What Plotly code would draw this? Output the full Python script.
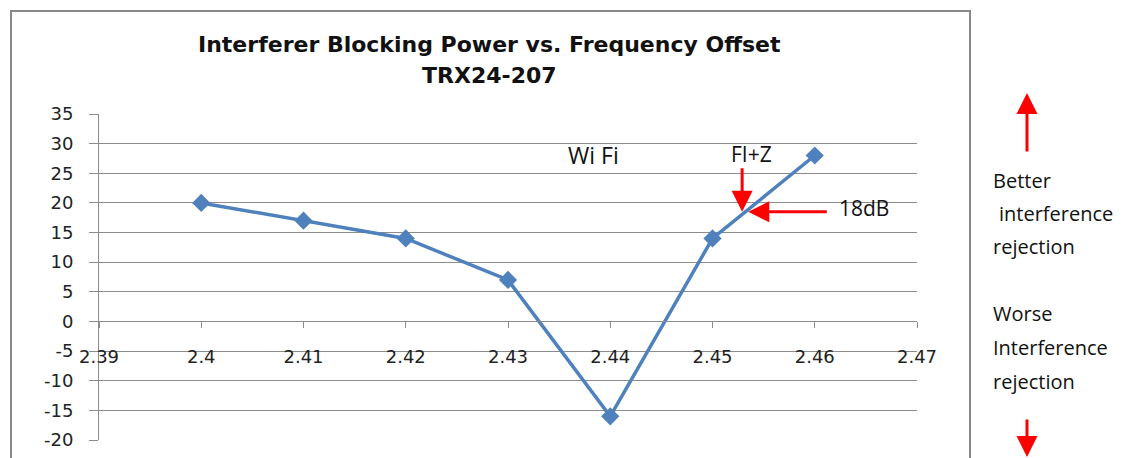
import plotly.graph_objects as go

# ---- data ----
freq = [2.40, 2.41, 2.42, 2.43, 2.44, 2.45, 2.46]
power = [20, 17, 14, 7, -16, 14, 28]
x_tickvals = [2.39, 2.40, 2.41, 2.42, 2.43, 2.44, 2.45, 2.46, 2.47]
x_ticktext = ["2.39", "2.4", "2.41", "2.42", "2.43", "2.44", "2.45", "2.46", "2.47"]
y_tickvals = [35, 30, 25, 20, 15, 10, 5, 0, -5, -10, -15, -20]
y_ticktext = ["35", "30", "25", "20", "15", "10", "5", "0", "-5", "-10", "-15", "-20"]
title_lines = ["Interferer Blocking Power vs. Frequency Offset", "TRX24-207"]

W, H = 1126, 458
L, R, T, B = 99, 209, 114, 18
pw, ph = W - L - R, H - T - B

def px_x(px):
    return (px - L) / pw

def px_y(py):
    return (H - B - py) / ph

fig = go.Figure()
fig.add_trace(go.Scatter(
    x=freq, y=power, mode="lines+markers",
    line=dict(color="#4F81BD", width=3.5),
    marker=dict(symbol="diamond", size=14, color="#4F81BD"),
    showlegend=False, hoverinfo="x+y",
))

grid = "#8C8C8C"
tickfont = dict(family="DejaVu Sans", size=18, color="#222222")
fig.update_layout(
    template="none",
    width=W, height=H,
    margin=dict(l=L, r=R, t=T, b=B, pad=0, autoexpand=False),
    paper_bgcolor="white", plot_bgcolor="white",
    font=dict(family="DejaVu Sans", color="#222222"),
    xaxis=dict(
        range=[2.39, 2.47], tickvals=x_tickvals, ticktext=x_ticktext,
        showgrid=False, zeroline=False, showline=True, linecolor=grid, linewidth=1,
        ticks="outside", ticklen=6, tickcolor=grid, automargin=False,
        anchor="free", position=20 / 55,
        tickfont=tickfont, ticklabelstandoff=13,
    ),
    yaxis=dict(
        range=[-20, 35], tickvals=y_tickvals, ticktext=y_ticktext,
        showgrid=True, gridcolor=grid, gridwidth=1, zeroline=False,
        showline=True, linecolor=grid, linewidth=1, automargin=False,
        ticks="outside", ticklen=9, tickcolor=grid,
        tickfont=tickfont, ticklabelstandoff=12,
    ),
)

# outer chart frame
fig.add_shape(type="rect", xref="paper", yref="paper",
              x0=px_x(11), x1=px_x(970), y0=px_y(470), y1=px_y(11),
              line=dict(color="#888888", width=2), fillcolor="rgba(0,0,0,0)", layer="below")

# title
for txt, py in zip(title_lines, [45, 75]):
    fig.add_annotation(text=f"<b>{txt}</b>", xref="paper", yref="paper",
                       x=px_x(489), y=px_y(py), showarrow=False,
                       xanchor="center", yanchor="middle",
                       font=dict(family="DejaVu Sans", size=22, color="#111111"))

tfont = dict(family="Open Sans", size=20, color="#111111")
fig.add_annotation(text="Wi Fi", x=2.4384, y=28.1, showarrow=False,
                   font=dict(family="Open Sans", size=23, color="#111111"),
                   xanchor="center", yanchor="middle")
fig.add_annotation(text="FI+Z", x=2.4538, y=28.25, showarrow=False,
                   font=dict(family="Open Sans", size=21, color="#111111"),
                   xanchor="center", yanchor="middle")
fig.add_annotation(text="18dB", x=2.4622, y=19.1, showarrow=False,
                   font=dict(family="Open Sans", size=21, color="#111111"),
                   xanchor="left", yanchor="middle")

arrow = dict(arrowhead=2, arrowsize=1.4, arrowwidth=3, arrowcolor="#FF0000")
# red arrows in plot
fig.add_annotation(x=2.4529, y=18.5, ax=0, ay=-45, text="", showarrow=True, **arrow)
fig.add_annotation(x=2.4535, y=18.5, ax=80, ay=0, text="", showarrow=True, **arrow)

# right side arrows
fig.add_annotation(xref="paper", yref="paper", x=px_x(1027), y=px_y(93), ax=0, ay=60,
                   text="", showarrow=True, **arrow)
fig.add_annotation(xref="paper", yref="paper", x=px_x(1027), y=px_y(463), ax=0, ay=-45,
                   text="", showarrow=True, **arrow)

side = [("Better", 991, 180), ("interference", 997, 213), ("rejection", 991, 246),
        ("Worse", 991, 313), ("Interference", 991, 347), ("rejection", 991, 381)]
for txt, px, py in side:
    fig.add_annotation(text=txt, xref="paper", yref="paper", x=px_x(px), y=px_y(py),
                       showarrow=False, xanchor="left", yanchor="middle", font=tfont)

fig.write_html("out.html", config={"displayModeBar": False},
               post_script="document.body.style.margin='0px';")
